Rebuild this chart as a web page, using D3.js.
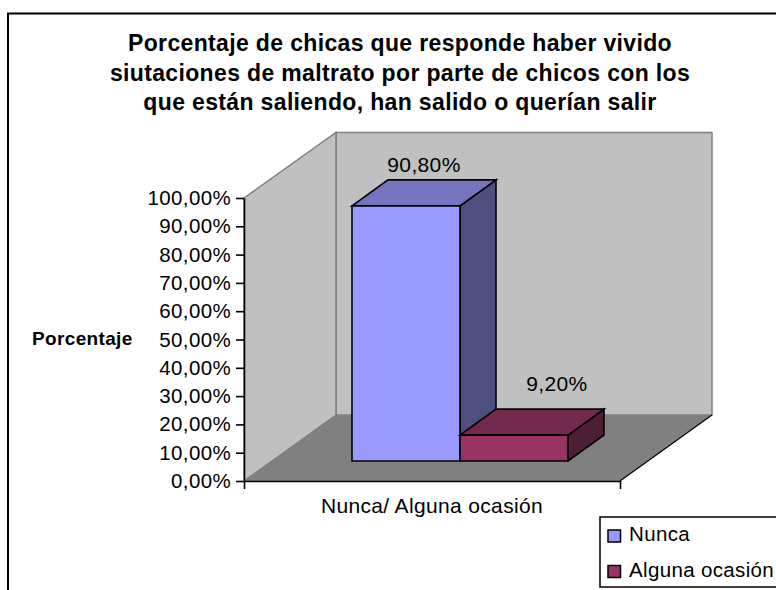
<!DOCTYPE html>
<html><head><meta charset="utf-8">
<script src="https://cdn.jsdelivr.net/npm/d3@7/dist/d3.min.js"></script>
<style>
html,body{margin:0;padding:0;background:#fff;overflow:hidden}
text{font-family:"Liberation Sans",Arial,sans-serif;fill:#000;letter-spacing:.35px}
</style></head><body><svg id="c" width="776" height="590"></svg>
<script>
const titleLines=["Porcentaje de chicas que responde haber vivido","siutaciones de maltrato por parte de chicos con los","que están saliendo, han salido o querían salir"];
const yAxisTitle="Porcentaje";
const xAxisTitle="Nunca/ Alguna ocasión";
const categories=["Nunca","Alguna ocasión"];
const values=[90.8,9.2];
const valueLabels=["90,80%","9,20%"];
const tickValues=[0,10,20,30,40,50,60,70,80,90,100];
const front=["#9999ff","#993366"],top_=["#7575bd","#742a4f"],side=["#4f4f7f","#4e1e36"];

const svg=d3.select("#c");
svg.append("path").attr("d","M8,590V13.5H776").attr("fill","none").attr("stroke","#000").attr("stroke-width",2);

const y=d3.scaleLinear().domain([0,100]).range([481,198]);
const barY=d3.scaleLinear().domain([0,100]).range([461,180]);
const x0=244,x1=620,dx=92,dy=66;
const xBand=d3.scaleBand().domain(categories).range([352,568]);

const poly=(pts,fill,stroke,sw)=>svg.append("polygon").attr("points",pts.map(p=>p.join(",")).join(" ")).attr("fill",fill).attr("stroke",stroke||"none").attr("stroke-width",sw||0).attr("stroke-linejoin","miter");
const yT=y(100),yB=y(0);
poly([[x0+dx,yT-dy+.5],[x1+dx,yT-dy+.5],[x1+dx,yB-dy],[x0+dx,yB-dy]],"#c0c0c0","#808080",1.5);
poly([[x0,yT],[x0+dx,yT-dy+.5],[x0+dx,yB-dy],[x0,yB]],"#c0c0c0","#808080",1.5);
poly([[x0,yB],[x0+dx,yB-dy],[x1+dx,yB-dy],[x1,yB]],"#808080");
svg.append("line").attr("x1",x1).attr("y1",yB).attr("x2",x1+dx).attr("y2",yB-dy).attr("stroke","#000").attr("stroke-width",1.2);

const yAxis=d3.axisLeft(y).tickValues(tickValues).tickSize(8).tickSizeOuter(0).tickFormat(d=>d3.format(".2f")(d).replace(".",",")+"%");
const gy=svg.append("g").attr("transform",`translate(${x0},0)`).call(yAxis);
gy.selectAll("path,line").attr("stroke","#000").attr("stroke-width",1.6);
gy.selectAll("text").attr("font-size",20.5).attr("x",-13).attr("fill","#000").attr("font-family","Liberation Sans");
const xS=d3.scalePoint().domain([0,1]).range([x0,x1]);
const gx=svg.append("g").attr("transform",`translate(0,${yB})`).call(d3.axisBottom(xS).tickSize(8).tickSizeOuter(0).tickFormat(""));
gx.selectAll("path,line").attr("stroke","#000").attr("stroke-width",1.6);

const bdx=36,bdy=26;
categories.forEach((c,i)=>{
  const l=xBand(c),r=l+xBand.bandwidth(),t=barY(values[i]),b=barY(0);
  const st="#000",sw=1.6;
  poly([[r,t],[r+bdx,t-bdy],[r+bdx,b-bdy],[r,b]],side[i],st,sw);
  poly([[l,t],[l+bdx,t-bdy],[r+bdx,t-bdy],[r,t]],top_[i],st,sw);
  poly([[l,t],[r,t],[r,b],[l,b]],front[i],st,sw);
  svg.append("text").attr("x",(l+r)/2+(i?43:18)).attr("y",t-bdy-(i?18:8)).attr("text-anchor","middle").attr("font-size",21).text(valueLabels[i]);
});

const titleY=[51,80.5,110];
svg.selectAll(".t").data(titleLines).enter().append("text").attr("class","t")
 .attr("x",400).attr("y",(d,i)=>titleY[i]).attr("text-anchor","middle").attr("font-size",23).attr("letter-spacing",".4px").attr("font-weight","bold").text(d=>d);
svg.append("text").attr("x",32).attr("y",345).attr("font-size",19).attr("font-weight","bold").attr("letter-spacing",".1px").text(yAxisTitle);
svg.append("text").attr("x",432).attr("y",513).attr("text-anchor","middle").attr("font-size",21).attr("letter-spacing",".5px").text(xAxisTitle);

svg.append("rect").attr("x",600).attr("y",517).attr("width",190).attr("height",70).attr("fill","#fff").attr("stroke","#000").attr("stroke-width",1.5);
categories.forEach((c,i)=>{
  const ly=536+i*35.5;
  svg.append("rect").attr("x",608).attr("y",ly-6).attr("width",12.5).attr("height",12).attr("fill",front[i]).attr("stroke","#000").attr("stroke-width",1.5);
  svg.append("text").attr("x",629).attr("y",ly+5).attr("font-size",20.5).text(c);
});
</script></body></html>
